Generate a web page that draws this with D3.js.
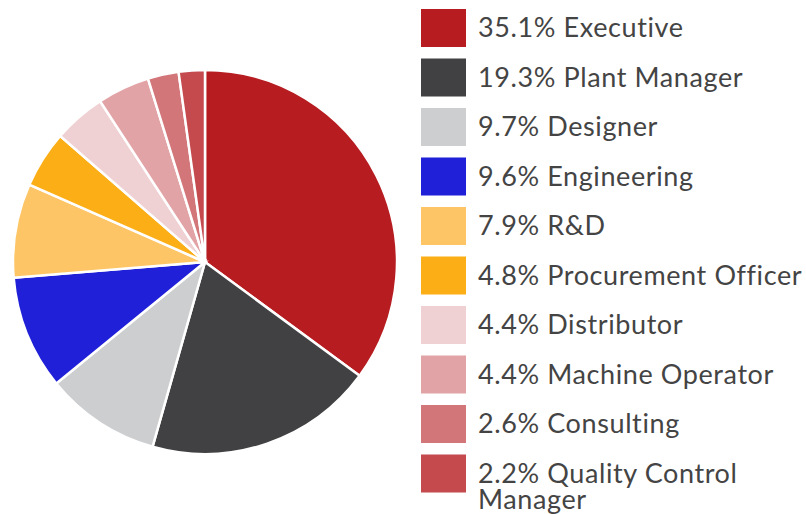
<!DOCTYPE html>
<html>
<head>
<meta charset="utf-8">
<script src="https://cdn.jsdelivr.net/npm/d3@7"></script>
<style>
  body { margin: 0; background: #fff; }
  text { font-family: "Lato", sans-serif; fill: #444; }
</style>
</head>
<body>
<svg id="chart"></svg>
<script>
let w = 806;
let h = 514;

const categories = ['Executive', 'Plant Manager', 'Designer', 'Engineering', 'R&D',
    'Procurement Officer', 'Distributor', 'Machine Operator', 'Consulting', 'Quality Control Manager'];
const shares = [35.1, 19.3, 9.7, 9.6, 7.9, 4.8, 4.4, 4.4, 2.6, 2.2];
const colors = ['#b71c21', '#414143', '#cdced0', '#2020d8', '#fdc566',
    '#fcae17', '#f0d1d3', '#e2a3a6', '#d3767a', '#c44a4e'];

function createGraph() {
    const chart = d3.select('#chart')
        .attr('width', w)
        .attr('height', h);

    const data = categories.map((c, i) => ({name: c, value: shares[i]}));
    const color = d3.scaleOrdinal().domain(categories).range(colors);

    const pie = d3.pie().value(d => d.value).sort(null);
    const arc = d3.arc().innerRadius(0).outerRadius(192);

    chart.append('g')
        .attr('transform', 'translate(205,262)')
        .selectAll('path')
        .data(pie(data))
        .enter()
        .append('path')
        .attr('d', arc)
        .style('fill', d => color(d.data.name))
        .style('stroke', '#fff')
        .style('stroke-width', 2.5);

    const y = d3.scaleBand().domain(categories).range([9, 9 + 49.5 * 10]).paddingInner(0);

    const legend = chart.append('g');
    const rows = legend.selectAll('g')
        .data(data)
        .enter()
        .append('g')
        .attr('transform', d => `translate(421,${y(d.name)})`);

    rows.append('rect')
        .attr('width', 45)
        .attr('height', 38)
        .style('fill', d => color(d.name));

    rows.each(function(d) {
        const label = d.value.toFixed(1) + '% ' + d.name;
        const t = d3.select(this).append('text')
            .attr('x', 57)
            .attr('y', 28)
            .style('font-size', '27px')
            .style('letter-spacing', '0.6px');
        // last label wraps onto two lines like the original
        if (d.name === 'Quality Control Manager') {
            t.append('tspan').attr('x', 57).text(d.value.toFixed(1) + '% Quality Control');
            t.append('tspan').attr('x', 57).attr('dy', 26).text('Manager');
        } else {
            t.text(label);
        }
    });
}

createGraph();
</script>
</body>
</html>
